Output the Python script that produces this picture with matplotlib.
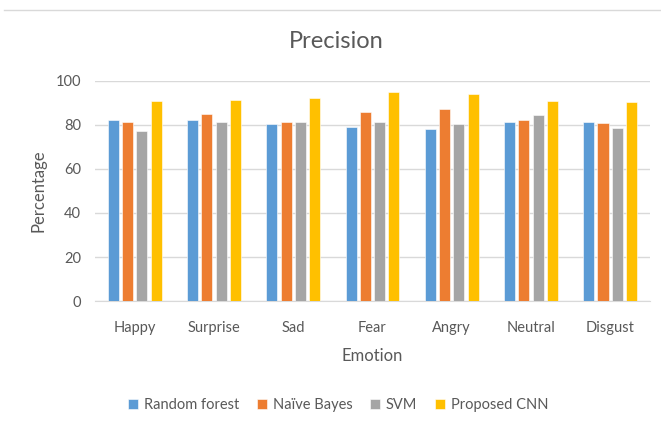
import numpy as np
import matplotlib.pyplot as plt
from matplotlib.lines import Line2D

emotions = ["Happy", "Surprise", "Sad", "Fear", "Angry", "Neutral", "Disgust"]
random_forest = [82.1, 82.1, 80.6, 79.0, 77.9, 81.2, 81.2]
naive_bayes = [81.1, 84.9, 81.1, 85.9, 87.1, 82.3, 80.8]
svm = [77.3, 81.1, 81.2, 81.2, 80.6, 84.4, 78.5]
proposed_cnn = [90.8, 91.4, 92.4, 95.1, 94.1, 90.8, 90.3]

series = [("Random forest", random_forest, "#5B9BD5"),
          ("Naïve Bayes", naive_bayes, "#ED7D31"),
          ("SVM", svm, "#A5A5A5"),
          ("Proposed CNN", proposed_cnn, "#FFC000")]

plt.rcParams['font.family'] = ['Lato', 'DejaVu Sans']
txt = "#595959"

fig = plt.figure(figsize=(6.61, 4.32), dpi=100)
ax = fig.add_axes([0.144, 0.303, 0.839, 0.51])

# faint chart border line at the top
fig.add_artist(Line2D([0.006, 1.0], [0.978, 0.978], color="#D9D9D9",
                      linewidth=1, transform=fig.transFigure))

x = np.arange(len(emotions))
w = 0.14
step = 0.18
for i, (name, vals, col) in enumerate(series):
    ax.bar(x + (i - 1.5) * step, vals, w, color=col, label=name, zorder=3,
           edgecolor="white", linewidth=0.4)

ax.set_xlim(-0.5, len(emotions) - 0.5)
ax.set_ylim(0, 100)
ax.set_yticks(range(0, 101, 20))
ax.set_xticks(x)
ax.set_xticklabels(emotions)
ax.tick_params(length=0, colors=txt, labelsize=10.5)
ax.tick_params(axis="x", pad=14)
ax.tick_params(axis="y", pad=10)
ax.grid(axis="y", color="#D9D9D9", linewidth=1, zorder=0)
for s in ["top", "right", "left"]:
    ax.spines[s].set_visible(False)
ax.spines["bottom"].set_color("#D9D9D9")

fig.text(0.508, 0.903, "Precision", color=txt, fontsize=17,
         ha="center", va="center")
ax.set_xlabel("Emotion", color=txt, fontsize=12, labelpad=10)
ax.set_ylabel("Percentage", color=txt, fontsize=12, labelpad=7)

ax.legend(loc="center", bbox_to_anchor=(0.438, -0.473), ncol=4,
          frameon=False, fontsize=10.5, labelcolor=txt, handlelength=0.7,
          handleheight=0.7, handletextpad=0.4, columnspacing=1.2)

fig.savefig("out.png", dpi=100)
